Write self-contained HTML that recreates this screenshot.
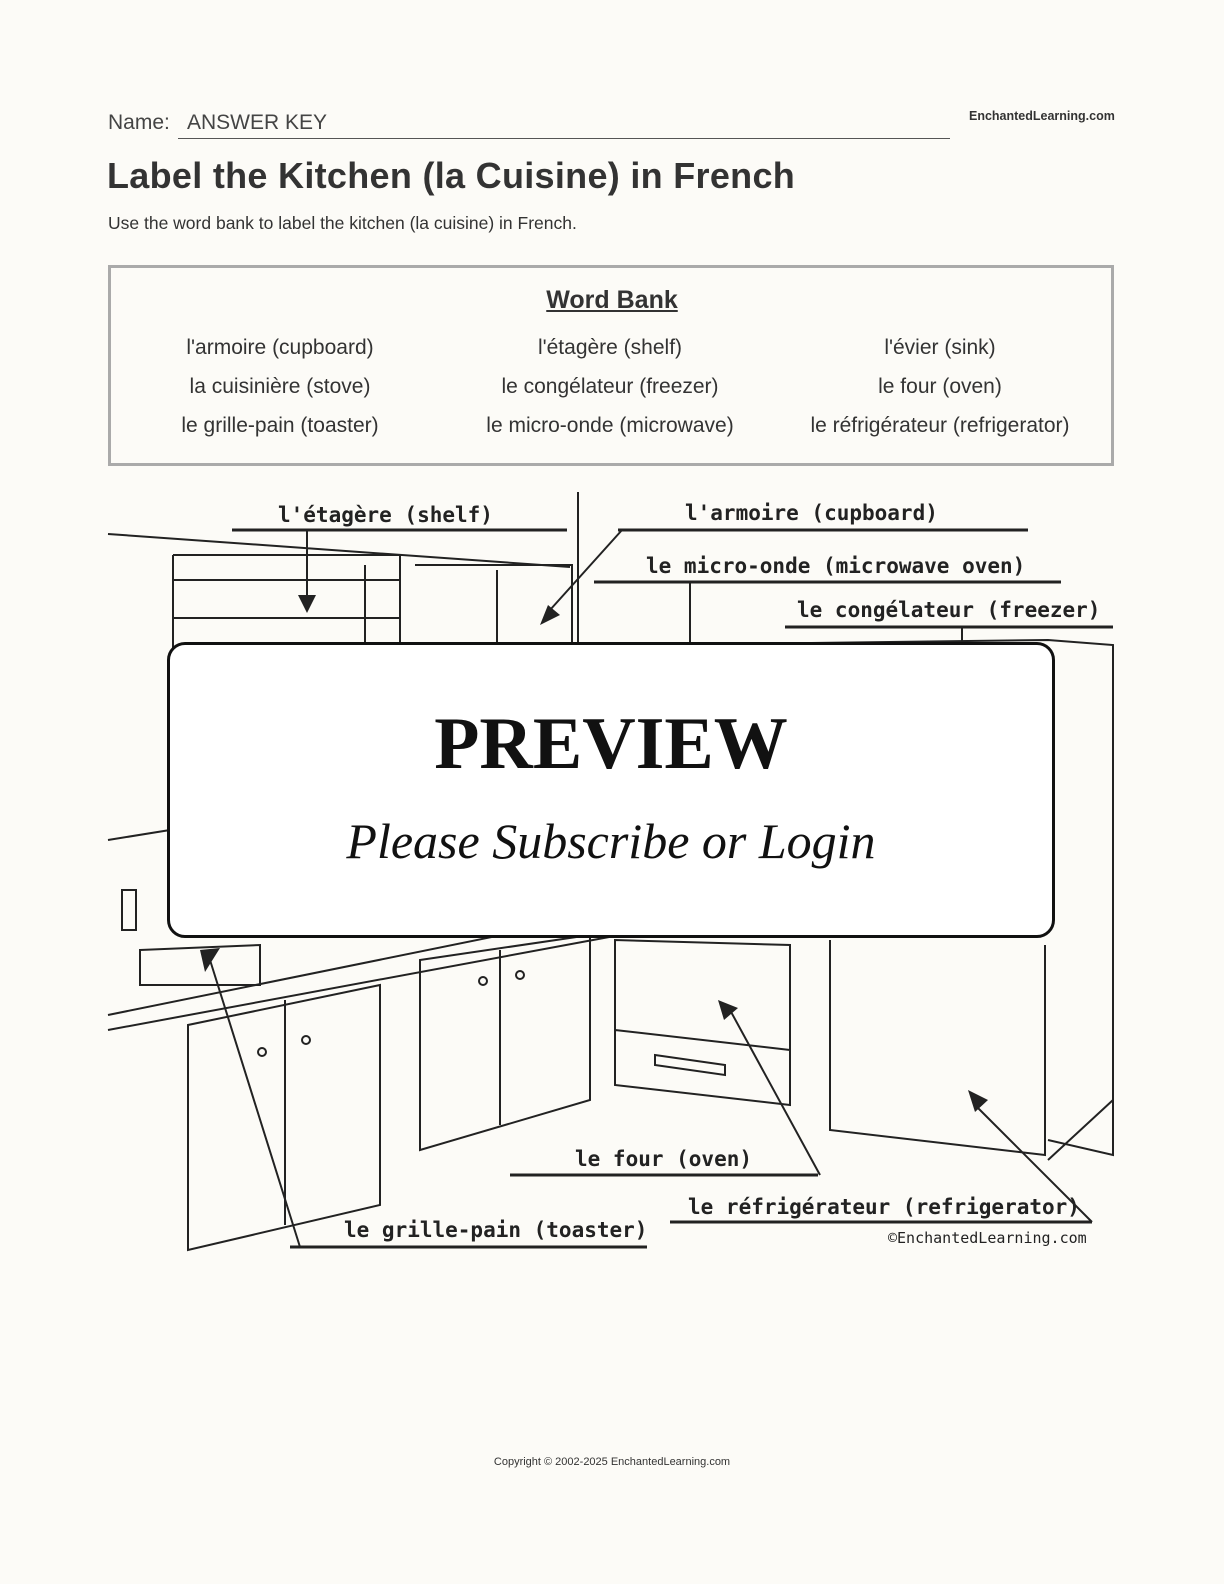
<!DOCTYPE html>
<html><head><meta charset="utf-8"><style>
body{margin:0;background:#fcfbf7;}
.page{position:relative;width:1224px;height:1584px;font-family:"Comic Sans MS","Liberation Sans",sans-serif;color:#333;}
.t{position:absolute;white-space:nowrap;}
</style></head><body><div class="page">
<div class="t" style="left:108px;top:111px;font-size:21px;color:#444">Name:</div>
<div class="t" style="left:187px;top:111px;font-size:21px;color:#444">ANSWER KEY</div>
<div style="position:absolute;left:178px;top:138px;width:772px;border-top:1.5px solid #555"></div>
<div class="t" style="left:969px;top:109px;font-size:12.5px;font-weight:bold;color:#333">EnchantedLearning.com</div>
<div class="t" style="left:107px;top:155px;font-size:36px;font-weight:bold;color:#333;letter-spacing:0.3px">Label the Kitchen (la Cuisine) in French</div>
<div class="t" style="left:108px;top:213px;font-size:17.5px;color:#333">Use the word bank to label the kitchen (la cuisine) in French.</div>
<div style="position:absolute;left:108px;top:265px;width:1006px;height:201px;border:3px solid #aaa;box-sizing:border-box"></div>
<div class="t" style="left:0;width:1224px;text-align:center;top:286px;font-size:25px;font-weight:bold;text-decoration:underline">Word Bank</div>
<div style="position:absolute;left:115px;top:328px;width:330px;text-align:center;font-size:21px;line-height:39px">l'armoire (cupboard)<br>la cuisinière (stove)<br>le grille-pain (toaster)</div>
<div style="position:absolute;left:445px;top:328px;width:330px;text-align:center;font-size:21px;line-height:39px">l'étagère (shelf)<br>le congélateur (freezer)<br>le micro-onde (microwave)</div>
<div style="position:absolute;left:775px;top:328px;width:330px;text-align:center;font-size:21px;line-height:39px">l'évier (sink)<br>le four (oven)<br>le réfrigérateur (refrigerator)</div>
<svg style="position:absolute;left:0;top:0" width="1224" height="1584" fill="none" stroke="#222" stroke-width="2">
<g font-family="DejaVu Sans Mono,Liberation Mono,monospace" font-weight="bold" font-size="21" fill="#222" stroke="none">
<text x="278" y="522">l'étagère (shelf)</text>
<text x="685" y="520">l'armoire (cupboard)</text>
<text x="646" y="573">le micro-onde (microwave oven)</text>
<text x="797" y="617">le congélateur (freezer)</text>
<text x="575" y="1166">le four (oven)</text>
<text x="688" y="1214">le réfrigérateur (refrigerator)</text>
<text x="344" y="1237">le grille-pain (toaster)</text>
<text x="888" y="1243" font-size="15" font-weight="normal">©EnchantedLearning.com</text>
</g>
<path d="M232 530H567M618 530H1028M594 582H1061M785 627H1113M510 1175H818M670 1222H1092M290 1247H647" stroke-width="3"/>
<path d="M578 492V650M108 534L570 567M173 555V650M173 555H400V650M173 580H400M173 618H400M365 565V650M415 565H572V650M497 570V650M307 530V605M622 530L550 610M690 582V645M962 627V645M660 645L1048 640L1113 645V1155L1048 1140"/>
<path d="M108 840L170 830M108 1030L620 935M108 1015L600 915M188 1025V1250L380 1205V985ZM285 1000V1225M420 960V1150L590 1100V935ZM500 950V1125M615 940V1085L790 1105V945ZM615 1030L790 1050M830 940V1130L1045 1155V945M1045 945V1155M1113 1100L1048 1160M655 1055L725 1065L725 1075L655 1065Z"/>
<path d="M122 890H136V930H122ZM140 950L260 945V985L140 985Z"/>
<path d="M210 960L300 1247M730 1010L820 1175M975 1105L1092 1222"/>
<g fill="#222" stroke="none">
<path d="M298 595L316 595L307 613Z"/><path d="M540 625L560 615L548 605Z"/>
<path d="M200 950L220 948L205 972Z"/><path d="M718 1000L738 1008L724 1020Z"/><path d="M968 1090L988 1100L975 1112Z"/>
</g>
<circle cx="262" cy="1052" r="4"/><circle cx="306" cy="1040" r="4"/><circle cx="483" cy="981" r="4"/><circle cx="520" cy="975" r="4"/>
</svg>
<div style="position:absolute;left:167px;top:642px;width:888px;height:296px;border:3px solid #111;border-radius:18px;background:#fff;box-sizing:border-box"></div>
<div class="t" style="left:167px;width:888px;text-align:center;top:702px;font-family:'Liberation Serif',serif;font-size:74px;font-weight:bold;color:#111">PREVIEW</div>
<div class="t" style="left:167px;width:888px;text-align:center;top:812px;font-family:'Liberation Serif',serif;font-style:italic;font-size:50px;color:#111">Please Subscribe or Login</div>
<div class="t" style="left:0;width:1224px;text-align:center;top:1456px;font-size:11px;color:#333">Copyright © 2002-2025 EnchantedLearning.com</div>
</div></body></html>
